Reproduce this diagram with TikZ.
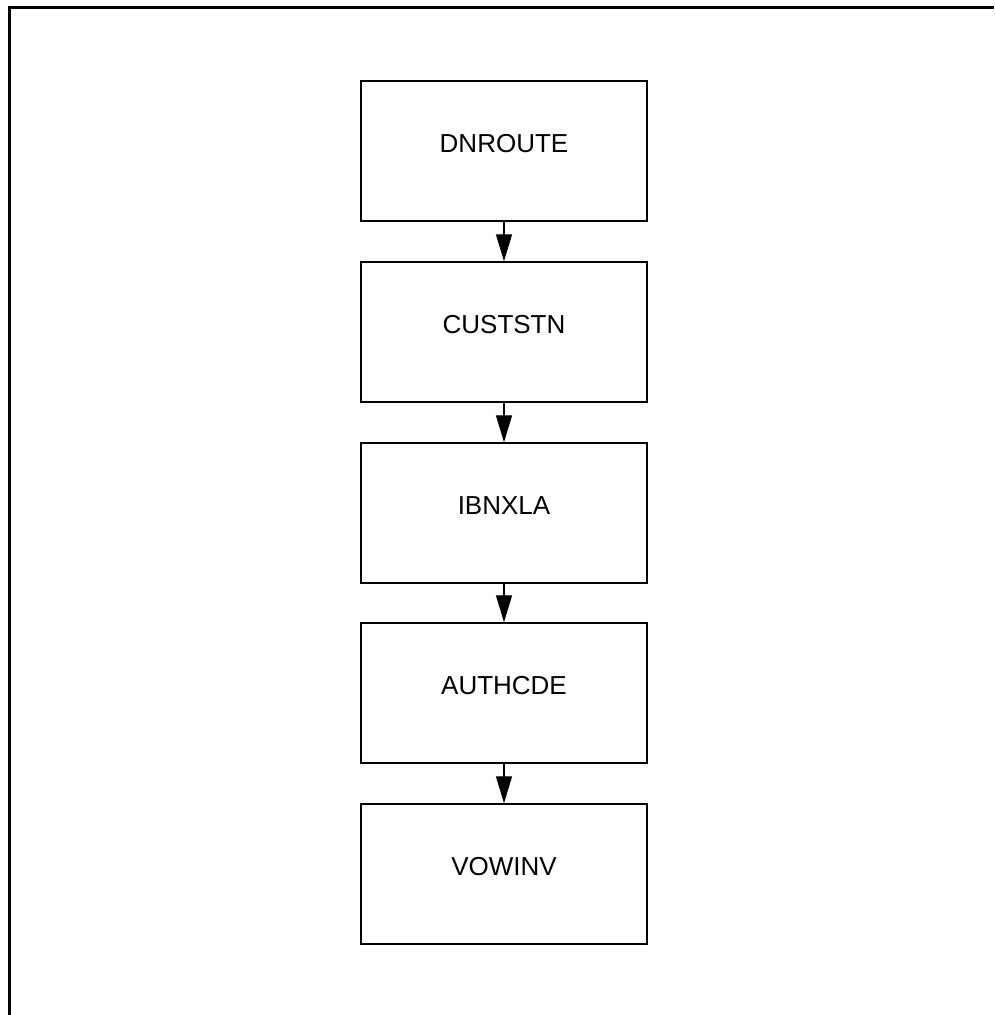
\documentclass[tikz,border=0pt]{standalone}
\usepackage{fontspec}
\setmainfont{Liberation Sans}
\usetikzlibrary{arrows.meta}
\begin{document}
\begin{tikzpicture}[x=1pt,y=-1pt,
  tablebox/.style={draw=black,line width=1.5pt,minimum width=286pt,minimum height=140pt,inner sep=0pt},
  tablename/.style={font=\fontsize{26}{30}\selectfont,inner sep=0pt},
  flow/.style={line width=1.4pt,-{Triangle[length=27pt,width=16pt]}}]
\useasboundingbox (0,0) rectangle (994,1015);
% open frame: top and left edges
\draw[line width=3pt] (9.5,1015) -- (9.5,7.5) -- (994,7.5);
% chain of tables
\foreach \n/\t/\y in {a/DNROUTE/151, b/CUSTSTN/332, c/IBNXLA/513, d/AUTHCDE/693, e/VOWINV/874}{
  \node[tablebox] (\n) at (504,\y) {};
  \node[tablename] (\n t) at (504,\y-7) {\t};
}
\foreach \p/\q in {a/b, b/c, c/d, d/e}{
  \draw[flow] (\p.south) -- (\q.north);
}
\end{tikzpicture}
\end{document}
